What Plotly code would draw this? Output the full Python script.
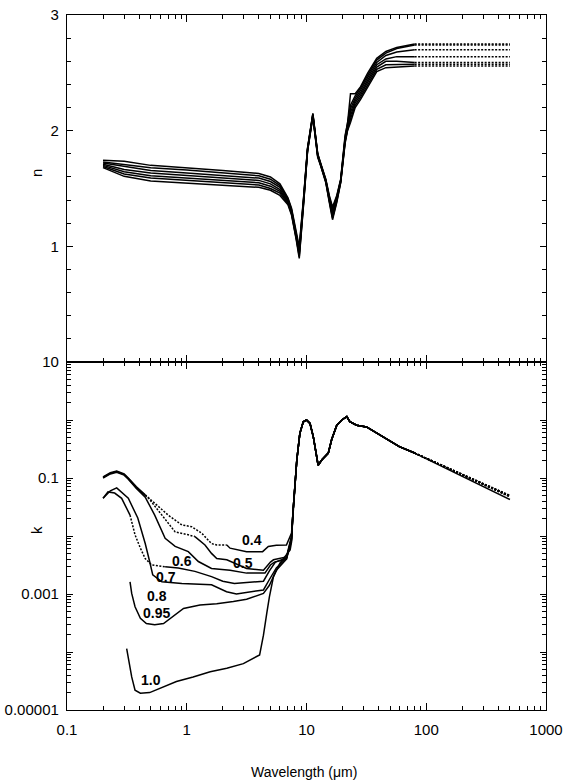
import math
import plotly.graph_objects as go

# ---------------- data ----------------
labels = ["0.4", "0.5", "0.6", "0.7", "0.8", "0.95", "1.0"]

# Top panel: real index n
n_wl = [0.2, 0.3, 0.5, 1.0, 2.0, 4.0, 5.0, 6.0, 7.0, 7.5, 8.2, 8.7, 9.5, 10.2, 11.3,
        12.4, 13.1, 14.5, 15.5, 16.5, 17.9, 19.3, 21, 22, 23.3, 25.5, 28.3, 32.5,
        38.6, 46, 56.7, 80]
n_04 = [1.745, 1.735, 1.70, 1.68, 1.655, 1.63, 1.60, 1.54, 1.42, 1.33, 1.12, 0.995, 1.45,
        1.85, 2.15, 1.80, 1.72, 1.58, 1.44, 1.34, 1.44, 1.58, 1.96, 2.06, 2.32, 2.32,
        2.38, 2.50, 2.625, 2.685, 2.72, 2.75]
n_05 = [1.73, 1.71, 1.68, 1.66, 1.635, 1.61, 1.58, 1.525, 1.41, 1.32, 1.11, 0.98, 1.44,
        1.845, 2.145, 1.80, 1.72, 1.575, 1.43, 1.32, 1.43, 1.575, 1.94, 2.05, 2.22, 2.30,
        2.37, 2.48, 2.61, 2.67, 2.71, 2.74]
n_06 = [1.72, 1.69, 1.655, 1.635, 1.615, 1.59, 1.56, 1.51, 1.40, 1.31, 1.10, 0.96, 1.43,
        1.84, 2.14, 1.79, 1.715, 1.57, 1.42, 1.30, 1.42, 1.57, 1.93, 2.04, 2.19, 2.28,
        2.35, 2.46, 2.59, 2.65, 2.68, 2.70]
n_07 = [1.71, 1.665, 1.635, 1.615, 1.595, 1.57, 1.54, 1.49, 1.39, 1.30, 1.09, 0.945, 1.42,
        1.835, 2.135, 1.79, 1.71, 1.565, 1.41, 1.28, 1.41, 1.565, 1.92, 2.03, 2.16, 2.26,
        2.33, 2.44, 2.57, 2.62, 2.64, 2.64]
n_08 = [1.70, 1.645, 1.61, 1.59, 1.57, 1.55, 1.52, 1.475, 1.38, 1.29, 1.08, 0.93, 1.41,
        1.83, 2.13, 1.78, 1.71, 1.56, 1.40, 1.26, 1.40, 1.56, 1.91, 2.02, 2.13, 2.24,
        2.31, 2.42, 2.55, 2.60, 2.60, 2.59]
n_095 = [1.69, 1.625, 1.59, 1.57, 1.55, 1.53, 1.50, 1.46, 1.37, 1.28, 1.07, 0.91, 1.40,
         1.825, 2.125, 1.78, 1.70, 1.555, 1.39, 1.245, 1.39, 1.555, 1.90, 2.01, 2.10, 2.22,
         2.29, 2.40, 2.53, 2.57, 2.57, 2.575]
n_10 = [1.68, 1.605, 1.565, 1.545, 1.528, 1.51, 1.485, 1.44, 1.36, 1.27, 1.06, 0.895, 1.39,
        1.82, 2.12, 1.77, 1.70, 1.55, 1.38, 1.23, 1.38, 1.55, 1.89, 2.00, 2.07, 2.20,
        2.27, 2.38, 2.51, 2.545, 2.55, 2.56]
n_ext_wl = [80, 500]          # dotted extrapolation range (constant n)

# Bottom panel: imaginary index k (values read as log10 k)
k04_wl = [0.2, 0.23, 0.26, 0.3, 0.325, 0.38, 0.45, 0.54, 0.7, 0.91, 1.1, 1.33, 1.61, 1.78,
          2.16, 2.3, 3.16, 4.3, 4.8, 5.6, 6.8, 7.3, 7.5]
k04_log = [-0.98, -0.91, -0.88, -0.93, -1.0, -1.15, -1.29, -1.44, -1.64, -1.81, -1.84, -1.95,
           -2.13, -2.155, -2.155, -2.21, -2.27, -2.27, -2.18, -2.16, -2.155, -2.01, -1.95]
k05_wl = [0.2, 0.23, 0.26, 0.3, 0.325, 0.38, 0.45, 0.48, 0.62, 0.8, 1.03, 1.17, 1.42, 1.61,
          1.78, 2.16, 3.16, 4.37, 5.0, 5.3, 6.8, 7.5]
k05_log = [-0.99, -0.92, -0.89, -0.94, -1.01, -1.17, -1.30, -1.35, -1.64, -1.93, -1.98, -2.01,
           -2.155, -2.30, -2.39, -2.41, -2.56, -2.59, -2.45, -2.41, -2.36, -2.0]
k06_wl = [0.2, 0.23, 0.26, 0.3, 0.325, 0.38, 0.45, 0.54, 0.66, 0.8, 1.03, 1.25, 1.61, 2.3,
          3.16, 4.5, 5.0, 5.4, 6.8, 7.5]
k06_log = [-1.0, -0.93, -0.90, -0.95, -1.02, -1.18, -1.33, -1.64, -2.04, -2.18, -2.27, -2.44,
           -2.56, -2.59, -2.64, -2.64, -2.5, -2.45, -2.40, -2.02]
k07_wl = [0.2, 0.22, 0.25, 0.286, 0.336, 0.37, 0.41, 0.45, 0.51, 0.66, 0.85, 1.17, 1.61, 2.0,
          2.5, 3.16, 4.37, 4.9, 5.5, 6.8, 7.5]
k07_log = [-1.35, -1.24, -1.26, -1.35, -1.64, -1.98, -2.21, -2.39, -2.50, -2.53, -2.55, -2.61,
           -2.70, -2.78, -2.82, -2.80, -2.78, -2.6, -2.45, -2.38, -2.05]
k08_wl = [0.2, 0.23, 0.26, 0.325, 0.39, 0.45, 0.49, 0.52, 0.62, 0.91, 1.61, 2.15, 2.6, 3.16,
          4.37, 4.9, 5.6, 6.8, 7.5]
k08_log = [-1.35, -1.22, -1.17, -1.35, -1.69, -2.13, -2.44, -2.67, -2.79, -2.82, -2.84, -2.96,
           -3.0, -2.97, -2.93, -2.75, -2.55, -2.38, -2.05]
k095_wl = [0.336, 0.347, 0.37, 0.41, 0.46, 0.54, 0.64, 0.77, 0.94, 1.29, 1.78, 2.45, 3.16,
           4.37, 4.9, 5.6, 6.8, 7.5]
k095_log = [-2.79, -2.99, -3.22, -3.42, -3.51, -3.53, -3.51, -3.39, -3.25, -3.19, -3.17, -3.13,
            -3.09, -2.99, -2.85, -2.59, -2.40, -2.08]
k10_wl = [0.315, 0.347, 0.37, 0.41, 0.49, 0.6, 0.82, 1.13, 1.57, 2.16, 2.97, 4.06, 4.37, 4.66,
          4.9, 5.3, 6.0, 7.3, 7.5]
k10_log = [-3.94, -4.43, -4.66, -4.71, -4.70, -4.63, -4.51, -4.43, -4.34, -4.28, -4.20, -4.05,
           -3.71, -3.33, -3.05, -2.70, -2.47, -2.24, -2.1]

# dotted (uncertain) wavelength intervals of the visible k curves
k_dot_range = [(0.45, 2.16), (0.45, 1.17), None, (0.336, 0.66), None, None, None]

# common infrared part of k
k_ir_wl = [7.7, 8.3, 8.8, 9.4, 10.0, 10.7, 11.4, 12.2, 12.5, 13.4, 15.2, 16.2, 17.9, 19.7,
           21.7, 23, 26.2, 31.7, 43.8, 59.6, 80]
k_ir_log = [-1.61, -0.69, -0.23, -0.03, 0.0, -0.06, -0.29, -0.63, -0.78, -0.69, -0.57, -0.34,
            -0.09, 0.0, 0.06, -0.03, -0.09, -0.12, -0.29, -0.46, -0.57]
# far-IR extrapolation: log10 k at 500 um for each curve
k_ext_wl = [80, 500]
k_ext_log500 = [-1.30, -1.305, -1.31, -1.315, -1.32, -1.325, -1.37]

# on-curve labels (wavelength, log10 k)
label_wl = [3.48, 2.97, 0.92, 0.667, 0.561, 0.561, 0.5]
label_logk = [-2.07, -2.47, -2.43, -2.71, -3.03, -3.33, -4.48]

x_ticks = [0.1, 1, 10, 100, 1000]
x_ticktext = ["0.1", "1", "10", "100", "1000"]
k_ticks = [1e-5, 1e-4, 1e-3, 1e-2, 1e-1, 1, 10]
k_ticktext = ["0.00001", "", "0.001", "", "0.1", "", "10"]
n_ticks = [1, 2, 3]

# ---------------- figure ----------------
n_all = [n_04, n_05, n_06, n_07, n_08, n_095, n_10]
k_wl_all = [k04_wl, k05_wl, k06_wl, k07_wl, k08_wl, k095_wl, k10_wl]
k_log_all = [k04_log, k05_log, k06_log, k07_log, k08_log, k095_log, k10_log]

LW = 1.5
DOT = "2px,1.5px"
fig = go.Figure()


def add(x, y, ax, dash="solid"):
    fig.add_trace(go.Scatter(
        x=x, y=y, mode="lines", xaxis="x" if ax == 1 else "x2",
        yaxis="y" if ax == 1 else "y2",
        line=dict(color="black", width=LW, dash=dash), showlegend=False,
        hoverinfo="skip"))


# top panel
for nv in n_all:
    add(n_wl, nv, 2)
    add(n_ext_wl, [nv[-1], nv[-1]], 2, DOT)

# bottom panel
for i in range(len(labels)):
    wl = k_wl_all[i] + k_ir_wl
    kv = [10 ** v for v in (k_log_all[i] + k_ir_log)]
    rng = k_dot_range[i]
    if rng is None:
        add(wl, kv, 1)
    else:
        a, b = rng
        s1 = [j for j, w in enumerate(wl) if w <= a]
        d = [j for j, w in enumerate(wl) if a <= w <= b]
        s2 = [j for j, w in enumerate(wl) if w >= b]
        add([wl[j] for j in s1], [kv[j] for j in s1], 1)
        add([wl[j] for j in d], [kv[j] for j in d], 1, DOT)
        add([wl[j] for j in s2], [kv[j] for j in s2], 1)
    k80 = 10 ** k_ir_log[-1]
    k500 = 10 ** k_ext_log500[i]
    add(k_ext_wl, [k80, k500], 1, "solid" if i == len(labels) - 1 else DOT)

for t, w, lk in zip(labels, label_wl, label_logk):
    fig.add_annotation(x=math.log10(w), y=lk, xref="x", yref="y", text="<b>%s</b>" % t,
                       showarrow=False, xanchor="center", yanchor="middle",
                       font=dict(size=14, color="black", family="Liberation Sans, Arial"))

x_minor = [m * 10 ** e for e in range(-1, 3) for m in range(2, 10)]
k_minor = [m * 10 ** e for e in range(-5, 1) for m in range(2, 10)]

FONT = dict(family="Liberation Sans, Arial, sans-serif", size=15, color="black")
axis_common = dict(showline=True, linecolor="black", linewidth=1.3, mirror="ticks",
                   ticks="inside", tickcolor="black", tickwidth=1.2, showgrid=False,
                   zeroline=False, tickfont=FONT, automargin=False)
SPLIT = (710 - 362) / (710 - 15)

fig.update_layout(
    width=570, height=784,
    margin=dict(l=67, r=24, t=15, b=74, autoexpand=False),
    paper_bgcolor="white", plot_bgcolor="white",
    font=FONT,
    xaxis=dict(type="log", range=[-1, 3], domain=[0, 1], anchor="y",
               tickmode="array", tickvals=x_ticks, ticktext=x_ticktext, ticklen=7,
               ticklabelstandoff=6,
               minor=dict(tickmode="array", tickvals=x_minor, ticks="inside", ticklen=4,
                          tickcolor="black", tickwidth=1),
               **axis_common),
    xaxis2=dict(type="log", range=[-1, 3], domain=[0, 1], anchor="y2", matches="x",
                tickmode="array", tickvals=x_ticks, ticktext=x_ticktext, ticklen=7,
                showticklabels=False,
                minor=dict(tickmode="array", tickvals=x_minor, ticks="inside", ticklen=4,
                           tickcolor="black", tickwidth=1),
                **axis_common),
    yaxis=dict(type="log", range=[-5, 1], domain=[0, SPLIT], anchor="x",
               tickmode="array", tickvals=k_ticks, ticktext=k_ticktext, ticklen=6,
               ticklabelstandoff=4,
               minor=dict(tickmode="array", tickvals=k_minor, ticks="inside", ticklen=4,
                          tickcolor="black", tickwidth=1),
               **axis_common),
    yaxis2=dict(range=[0, 3], domain=[SPLIT, 1], anchor="x2",
                tickmode="array", tickvals=n_ticks, ticklen=6, ticklabelstandoff=4,
                minor=dict(tickmode="linear", tick0=0, dtick=0.2, ticks="inside",
                           ticklen=4, tickcolor="black", tickwidth=1),
                **axis_common),
)

fig.add_annotation(x=(304 - 67) / 479, y=(710 - 772) / 695, xref="paper", yref="paper",
                   text="Wavelength (\u03bcm)", showarrow=False,
                   xanchor="center", yanchor="middle",
                   font=dict(family="Liberation Sans, Arial", size=14, color="black"))
fig.add_annotation(x=(36 - 67) / 479, y=(710 - 173) / 695, xref="paper", yref="paper",
                   text="n", showarrow=False, textangle=-90,
                   xanchor="center", yanchor="middle",
                   font=dict(family="Liberation Sans, Arial", size=15, color="black"))
fig.add_annotation(x=(36 - 67) / 479, y=(710 - 530) / 695, xref="paper", yref="paper",
                   text="k", showarrow=False, textangle=-90,
                   xanchor="center", yanchor="middle",
                   font=dict(family="Liberation Sans, Arial", size=15, color="black"))

# place the 570x784 figure at the page origin (no default body margin / scrollbars)
fig.write_html("out.html", config={"displayModeBar": False},
               post_script="document.body.style.margin='0';"
                           "document.body.style.overflow='hidden';")
